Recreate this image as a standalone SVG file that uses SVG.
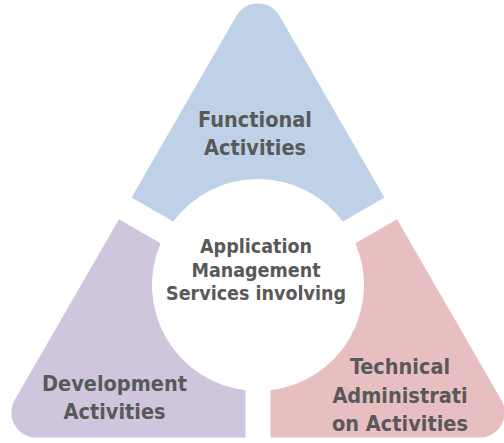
<svg xmlns="http://www.w3.org/2000/svg" width="504" height="443" viewBox="0 0 504 443">
  <style>
    .lbl { font-family: "DejaVu Sans Condensed", "DejaVu Sans", sans-serif; font-weight: bold; fill: #595959; text-anchor: middle; }
    .seg { font-size: 21.5px; }
    .ctr { font-size: 19.5px; }
  </style>
  <defs>
    <clipPath id="tri">
      <path d="M 236.35,16 A 25 25 0 0 1 279.65,16 L 501.35,400 A 25 25 0 0 1 479.7,437.5 L 36.3,437.5 A 25 25 0 0 1 14.65,400 Z"/>
    </clipPath>
  </defs>
  <rect width="504" height="443" fill="#ffffff"/>
  <g id="functional">
    <path clip-path="url(#tri)" fill="#BED1E6" d="M -100,63.87 L 173.09,221.54 A 106 106 0 0 1 342.91,221.54 L 616,63.87 L 616,-100 L -100,-100 Z"/>
    <text class="lbl seg" x="255" y="126.5">Functional</text>
    <text class="lbl seg" x="255" y="155">Activities</text>
  </g>
  <g id="development">
    <path clip-path="url(#tri)" fill="#CFC6DE" d="M -100,92.8 L 160.59,243.2 A 106 106 0 0 0 245.5,390.26 L 245.5,535 L -100,535 Z"/>
    <text class="lbl seg" x="114.5" y="390.5">Development</text>
    <text class="lbl seg" x="114.5" y="418.5">Activities</text>
  </g>
  <g id="technical">
    <path clip-path="url(#tri)" fill="#E8BFC0" d="M 616,92.8 L 355.41,243.2 A 106 106 0 0 1 270.5,390.26 L 270.5,535 L 616,535 Z"/>
    <text class="lbl seg" x="400" y="374">Technical</text>
    <text class="lbl seg" x="400" y="402.5">Administrati</text>
    <text class="lbl seg" x="400" y="430.5">on Activities</text>
  </g>
  <g id="center">
    <text class="lbl ctr" x="256" y="252.5">Application</text>
    <text class="lbl ctr" x="256" y="276.5">Management</text>
    <text class="lbl ctr" x="256" y="300">Services involving</text>
  </g>
  <g id="connectors"/>
</svg>
